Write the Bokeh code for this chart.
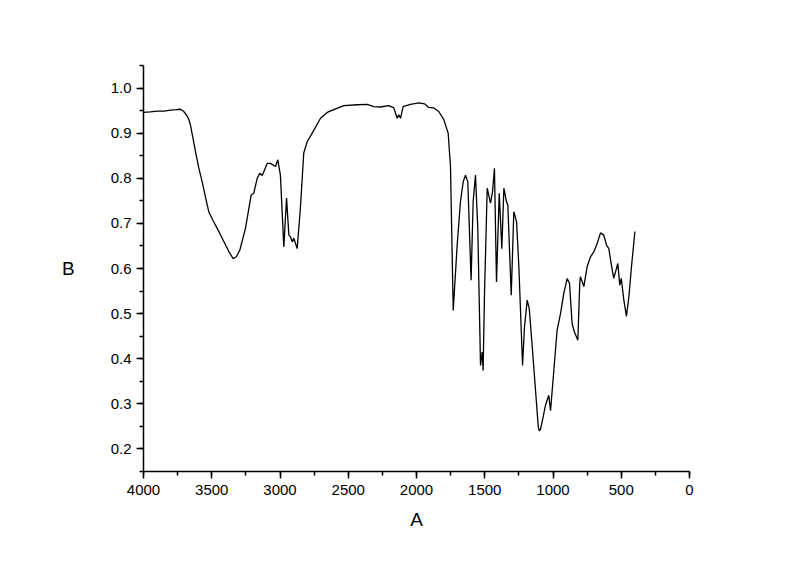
from bokeh.plotting import figure
from bokeh.models import Range1d, FixedTicker, PrintfTickFormatter, ColumnDataSource
from bokeh.embed import file_html
from bokeh.resources import INLINE

# wavenumber (A) and transmittance-like value (B)
wavenumber = [4000, 3950, 3900, 3850, 3800, 3760, 3729, 3705, 3685, 3670, 3656, 3640, 3619, 3595, 3570,
              3545, 3522, 3490, 3460, 3430, 3399, 3370, 3343, 3320, 3294, 3253, 3211, 3192, 3167,
              3148, 3130, 3094, 3070, 3033, 3016, 2997, 2972, 2952, 2935, 2923, 2911, 2899, 2874,
              2850, 2826, 2801, 2764, 2703, 2654, 2606, 2533, 2434, 2361, 2313, 2264, 2203, 2166,
              2142, 2130, 2117, 2098, 2044, 1983, 1941, 1910, 1873, 1837, 1800, 1768, 1751, 1731,
              1702, 1678, 1658, 1641, 1624, 1600, 1585, 1568, 1551, 1531, 1519, 1512, 1502, 1482,
              1458, 1443, 1429, 1414, 1394, 1375, 1360, 1341, 1331, 1306, 1287, 1267, 1250, 1223,
              1209, 1189, 1174, 1152, 1128, 1108, 1100, 1092, 1072, 1055, 1031, 1018, 994, 970, 945,
              921, 896, 879, 860, 843, 818, 804, 799, 774, 750, 725, 701, 677, 652, 628, 608,
              591, 574, 555, 525, 511, 500, 481, 462, 444, 425, 400]
signal = [0.946, 0.947, 0.949, 0.949, 0.951, 0.952, 0.953, 0.948, 0.940, 0.932, 0.918, 0.893, 0.859, 0.823, 0.792,
          0.757, 0.726, 0.706, 0.689, 0.671, 0.652, 0.635, 0.622, 0.626, 0.641, 0.689, 0.763, 0.767, 0.800,
          0.811, 0.806, 0.833, 0.833, 0.826, 0.841, 0.807, 0.648, 0.756, 0.674, 0.670, 0.659, 0.667, 0.644,
          0.737, 0.856, 0.881, 0.900, 0.933, 0.946, 0.952, 0.961, 0.963, 0.964, 0.959, 0.958, 0.961, 0.956,
          0.933, 0.941, 0.933, 0.959, 0.964, 0.967, 0.965, 0.957, 0.956, 0.948, 0.930, 0.900, 0.826, 0.507,
          0.652, 0.748, 0.792, 0.807, 0.792, 0.574, 0.748, 0.807, 0.689, 0.385, 0.415, 0.374, 0.541, 0.778,
          0.745, 0.770, 0.822, 0.570, 0.767, 0.644, 0.778, 0.748, 0.741, 0.541, 0.726, 0.704, 0.604, 0.385,
          0.470, 0.530, 0.511, 0.426, 0.330, 0.249, 0.240, 0.243, 0.271, 0.297, 0.319, 0.285, 0.374, 0.463, 0.500,
          0.545, 0.578, 0.567, 0.478, 0.459, 0.441, 0.567, 0.582, 0.560, 0.604, 0.626, 0.637, 0.655, 0.679,
          0.674, 0.652, 0.644, 0.611, 0.578, 0.611, 0.563, 0.578, 0.530, 0.494, 0.537, 0.604, 0.682]

x_ticks = [4000, 3500, 3000, 2500, 2000, 1500, 1000, 500, 0]
y_ticks = [0.2, 0.3, 0.4, 0.5, 0.6, 0.7, 0.8, 0.9, 1.0]

source = ColumnDataSource(data=dict(x=wavenumber, y=signal))

p = figure(width=784, height=549, output_backend="svg", toolbar_location=None,
           x_range=Range1d(4000, 0), y_range=Range1d(0.15, 1.05),
           min_border_left=143, min_border_right=95, min_border_top=65, min_border_bottom=78)
p.outline_line_color = None
p.grid.grid_line_color = None
p.background_fill_color = "white"
p.border_fill_color = "white"

p.line("x", "y", source=source, line_color="black", line_width=1.3)

p.xaxis.ticker = FixedTicker(ticks=x_ticks, minor_ticks=list(range(4000, -1, -250)))
p.yaxis.ticker = FixedTicker(ticks=y_ticks, minor_ticks=[round(0.15 + 0.05 * i, 2) for i in range(19)])
p.yaxis.formatter = PrintfTickFormatter(format="%.1f")

for ax in (p.xaxis[0], p.yaxis[0]):
    ax.axis_line_color = "black"
    ax.axis_line_width = 1.5
    ax.major_tick_line_color = "black"
    ax.major_tick_line_width = 1.5
    ax.minor_tick_line_color = "black"
    ax.minor_tick_line_width = 1.5
    ax.major_tick_in = 0
    ax.major_tick_out = 7
    ax.minor_tick_in = 0
    ax.minor_tick_out = 4
    ax.major_label_text_font = "Liberation Sans"
    ax.major_label_text_font_size = "15px"
    ax.major_label_text_color = "black"
    ax.axis_label_text_font = "Liberation Sans"
    ax.axis_label_text_font_size = "19px"
    ax.axis_label_text_font_style = "normal"
    ax.axis_label_text_color = "black"

p.xaxis.axis_label = "A"
p.yaxis.axis_label = "B"
p.xaxis.axis_label_standoff = 11
p.yaxis.axis_label_standoff = 33
p.yaxis.axis_label_orientation = "horizontal"
p.xaxis.major_label_standoff = 6
p.yaxis.major_label_standoff = 5

open("out.html", "w").write(file_html(p, INLINE))
